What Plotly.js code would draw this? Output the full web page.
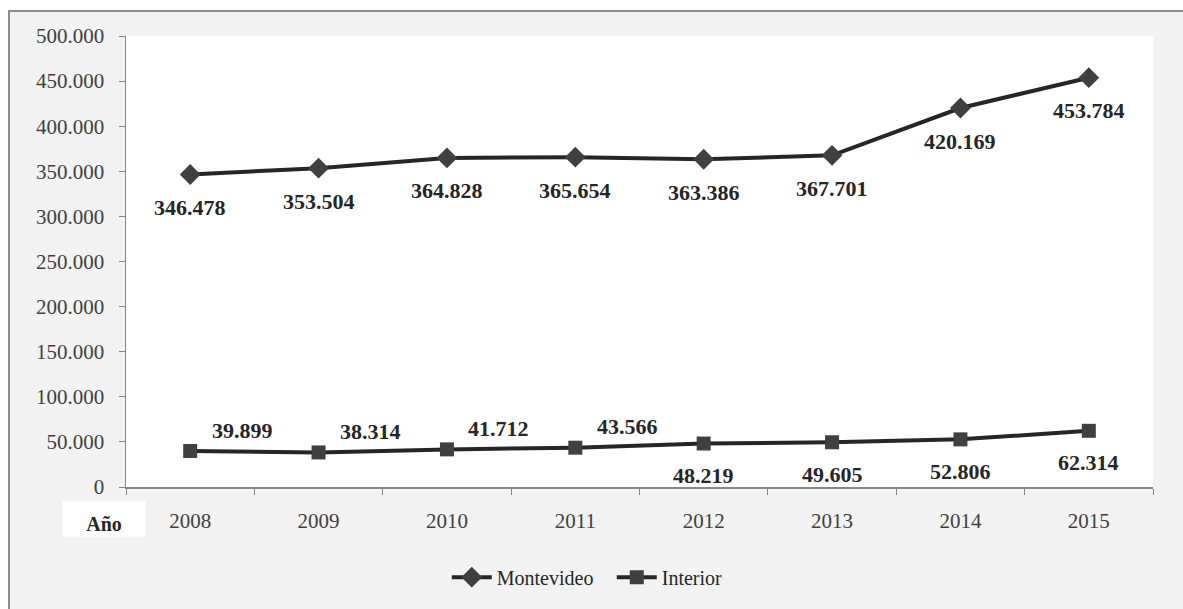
<!DOCTYPE html>
<html>
<head>
<meta charset="utf-8">
<script src="https://cdn.plot.ly/plotly-3.0.1.min.js"></script>
<style>
html,body{margin:0;padding:0;width:1183px;height:609px;overflow:hidden;background:#fff;}
#frame{position:absolute;left:8px;top:10px;width:1200px;height:620px;background:#f2f2f2;border:2px solid #8c8c8c;box-sizing:border-box;}
#chart{position:absolute;left:0;top:0;width:1183px;height:609px;}
</style>
</head>
<body>
<div id="frame"></div>
<div id="chart"></div>
<script>
const years = ['2008','2009','2010','2011','2012','2013','2014','2015'];
const montevideo = [346478, 353504, 364828, 365654, 363386, 367701, 420169, 453784];
const interior = [39899, 38314, 41712, 43566, 48219, 49605, 52806, 62314];
const interiorLabelAbove = [true, true, true, true, false, false, false, false];

function fmt(v){ return String(v).replace(/\B(?=(\d{3})+(?!\d))/g, '.'); }

const serif = 'Liberation Serif';
const lineColor = '#262626';
const markerColor = '#404040';

const traces = [
  {
    x: years, y: montevideo, name: 'Montevideo', type: 'scatter', mode: 'lines+markers',
    line: {color: lineColor, width: 4},
    marker: {symbol: 'diamond', size: 16, color: markerColor}
  },
  {
    x: years, y: interior, name: 'Interior', type: 'scatter', mode: 'lines+markers',
    line: {color: lineColor, width: 4},
    marker: {symbol: 'square', size: 14, color: markerColor}
  }
];

const annotations = [];
years.forEach((yr, i) => {
  annotations.push({
    x: i, y: montevideo[i], xref: 'x', yref: 'y', text: '<b>' + fmt(montevideo[i]) + '</b>',
    showarrow: false, yshift: -33, xshift: 0,
    font: {family: serif, size: 22, color: '#262626'}
  });
  const above = interiorLabelAbove[i];
  annotations.push({
    x: i, y: interior[i], xref: 'x', yref: 'y', text: '<b>' + fmt(interior[i]) + '</b>',
    showarrow: false, yshift: above ? 21 : -32, xshift: above ? 52 : 0,
    font: {family: serif, size: 22, color: '#262626'}
  });
});
annotations.push({
  x: -0.0214, y: -0.07, xref: 'paper', yref: 'paper', xanchor: 'center', yanchor: 'middle',
  text: '<b>Año</b>', showarrow: false, bgcolor: '#ffffff', width: 80, height: 32, valign: 'bottom',
  font: {family: serif, size: 20, color: '#262626'}
});

const layout = {
  width: 1183, height: 609,
  margin: {l: 126, r: 30, t: 36, b: 119},
  paper_bgcolor: 'rgba(0,0,0,0)',
  plot_bgcolor: '#ffffff',
  separators: ',.',
  showlegend: true,
  legend: {
    orientation: 'h', x: 0.473, xanchor: 'center', y: -0.2, yanchor: 'middle',
    font: {family: serif, size: 20, color: '#262626'}, bgcolor: 'rgba(0,0,0,0)',
    itemwidth: 40, entrywidth: 110
  },
  xaxis: {
    type: 'category', range: [-0.5, 7.5], showline: true, linecolor: '#868686', linewidth: 1.5,
    ticks: 'outside', tickson: 'boundaries', ticklen: 6, tickcolor: '#868686',
    showgrid: false, zeroline: false, tickangle: 0, ticklabelstandoff: 14,
    tickfont: {family: serif, size: 21, color: '#404040'}
  },
  yaxis: {
    range: [0, 500000], dtick: 50000, tickformat: ',d',
    showline: true, linecolor: '#868686', linewidth: 1.5,
    ticks: 'outside', ticklen: 6, tickcolor: '#868686',
    showgrid: false, zeroline: false, ticklabelstandoff: 10,
    tickfont: {family: serif, size: 21, color: '#404040'}
  },
  annotations: annotations
};

Plotly.newPlot('chart', traces, layout, {displayModeBar: false, staticPlot: true});
</script>
</body>
</html>
